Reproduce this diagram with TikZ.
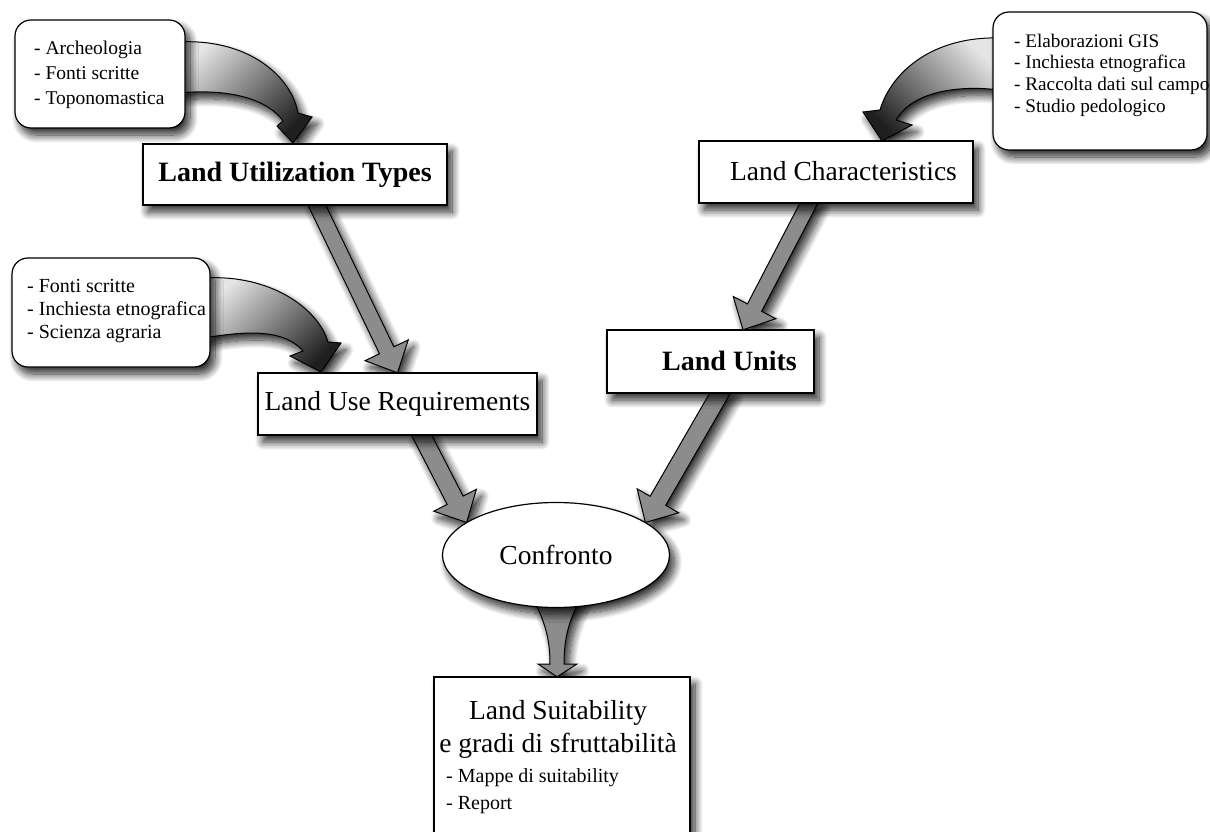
\documentclass[tikz,border=0pt]{standalone}
\usepackage{fontspec}
\setmainfont{Liberation Serif}
\usetikzlibrary{calc,shapes.geometric,shadows.blur}

\tikzset{
  boxshadow/.style={blur shadow={shadow xshift=5pt, shadow yshift=-7pt,
      shadow blur steps=14, shadow blur radius=8pt, shadow opacity=85}},
  plainbox/.style={draw=black, line width=1.2pt, fill=white, rectangle,
      inner sep=0pt, boxshadow},
  listbox/.style={plainbox, rounded corners=16pt},
  regular/.style={font=\fontsize{27.5}{33}\selectfont},
  heavy/.style={font=\fontsize{28}{33}\selectfont\bfseries},
  listtext/.style={align=left, inner sep=0pt, anchor=west},
  flat/.style={draw=black, line width=1pt, fill=black!45, line join=miter,
      boxshadow},
  curved/.style={draw=black, line width=1pt, top color=black!10,
      bottom color=black!88, boxshadow},
}

% straight block arrow: start, tip, shaft half-width, head half-width, head length
\newcommand{\flatarrow}[5]{%
  \coordinate (fa-base) at ($(#2)!#5!(#1)$);
  \draw[flat] ($(#1)!#3!90:(#2)$) -- ($(fa-base)!#3!90:(#2)$)
    -- ($(fa-base)!#4!90:(#2)$) -- (#2) -- ($(fa-base)!#4!-90:(#2)$)
    -- ($(fa-base)!#3!-90:(#2)$) -- ($(#1)!#3!-90:(#2)$) -- cycle;
}

\begin{document}
\begin{tikzpicture}[x=1pt, y=-1pt]
\useasboundingbox (0,0) rectangle (1210,832);

% invisible placeholders for the node geometry (boxes are drawn last)
\path (100,74) node[minimum width=170pt, minimum height=108pt, inner sep=0pt] (boxA) {};
\path (1100,81) node[minimum width=214pt, minimum height=138pt, inner sep=0pt] (boxB) {};
\path (111,312.5) node[minimum width=198pt, minimum height=109pt, inner sep=0pt] (boxC) {};
\path (295,174.5) node[minimum width=304pt, minimum height=61pt, inner sep=0pt] (LUT) {};
\path (836,172) node[minimum width=274pt, minimum height=62pt, inner sep=0pt] (LC) {};
\path (397.5,404) node[minimum width=279pt, minimum height=62pt, inner sep=0pt] (LUR) {};
\path (710.5,361.5) node[minimum width=207pt, minimum height=63pt, inner sep=0pt] (LU) {};
\path (556,555) node[ellipse, minimum width=227pt, minimum height=105pt, inner sep=0pt] (conf) {};
\path (562,763.5) node[minimum width=256pt, minimum height=173pt, inner sep=0pt] (LS) {};

% ---------- connectors ----------
% curved shaded arrows from the source lists
\path[curved, shading angle=45]
  (178,42) .. controls (250,38) and (292,78) .. (298,113) -- (312,117)
  -- (293,143) -- (277,126) -- (283,121)
  .. controls (268,100) and (232,88) .. (178,93) -- cycle;
\path[curved, shading angle=-45]
  (1000,38) .. controls (935,36) and (892,70) .. (880,110) -- (863,112)
  -- (882,141) -- (912,125) -- (896,120)
  .. controls (910,95) and (950,84) .. (1000,90) -- cycle;
\path[curved, shading angle=45]
  (204,278) .. controls (270,274) and (318,308) .. (328,342) -- (341,343)
  -- (321,372) -- (290,356) -- (303,351)
  .. controls (285,330) and (250,330) .. (204,338) -- cycle;

% straight block arrows
\coordinate (s1) at ($(LUT.south)+(19,-6)$);
\coordinate (t1) at (LUR.north);
\flatarrow{s1}{t1}{8pt}{24pt}{25pt}
\coordinate (s2) at ($(LC.south)+(-24,-6)$);
\coordinate (t2) at ($(LU.north)+(32.5,0)$);
\flatarrow{s2}{t2}{8pt}{24pt}{25pt}
\coordinate (s3) at ($(LUR.south)+(21,-6)$);
\coordinate (t3) at (conf.160);
\flatarrow{s3}{t3}{9pt}{24pt}{25pt}
\coordinate (s4) at ($(LU.south)+(13,-6)$);
\coordinate (t4) at (conf.20);
\flatarrow{s4}{t4}{9pt}{24pt}{25pt}

% funnel arrow from the comparison to the result
\coordinate (t5) at ($(LS.north)+(-5,0)$);
\draw[flat] (531,594) .. controls (543,618) and (550,635) .. (550,664)
  -- (538,664) -- (t5) -- (577,664) -- (564,664)
  .. controls (564,635) and (570,618) .. (583,594) -- cycle;

% ---------- boxes ----------
\node[listbox, minimum width=170pt, minimum height=108pt] at (boxA) {};
\node[listtext, font=\fontsize{19.5}{25}\selectfont] (txtA) at (34,75)
  {- Archeologia\\- Fonti scritte\\- Toponomastica};

\node[listbox, minimum width=214pt, minimum height=138pt] at (boxB) {};
\node[listtext, font=\fontsize{19.2}{21.7}\selectfont] (txtB) at (1014,75)
  {- Elaborazioni GIS\\- Inchiesta etnografica\\- Raccolta dati sul campo\\- Studio pedologico};

\node[listbox, minimum width=198pt, minimum height=109pt] at (boxC) {};
\node[listtext, font=\fontsize{20}{23}\selectfont] (txtC) at (27,311)
  {- Fonti scritte\\- Inchiesta etnografica\\- Scienza agraria};

\node[plainbox, heavy, minimum width=304pt, minimum height=61pt] at (LUT) {Land Utilization Types};

\node[plainbox, minimum width=274pt, minimum height=62pt] at (LC) {};
\node[regular, inner sep=0pt] (txtLC) at (843.5,171) {Land Characteristics};

\node[plainbox, regular, minimum width=279pt, minimum height=62pt] at (LUR) {Land Use Requirements};

\node[plainbox, minimum width=207pt, minimum height=63pt] at (LU) {};
\node[heavy, inner sep=0pt] (txtLU) at (729.5,361) {Land Units};

\node[ellipse, draw=black, line width=1.2pt, fill=white, boxshadow,
  regular, minimum width=227pt, minimum height=105pt, inner sep=0pt] at (conf) {Confronto};

\node[plainbox, minimum width=256pt, minimum height=173pt] at (LS) {};
\node[regular, align=center, inner sep=0pt] (txtLS) at (558,729)
  {Land Suitability\\e gradi di sfruttabilità};
\node[listtext, font=\fontsize{20}{27}\selectfont] (listLS) at (446,791)
  {- Mappe di suitability\\- Report};
\end{tikzpicture}
\end{document}
